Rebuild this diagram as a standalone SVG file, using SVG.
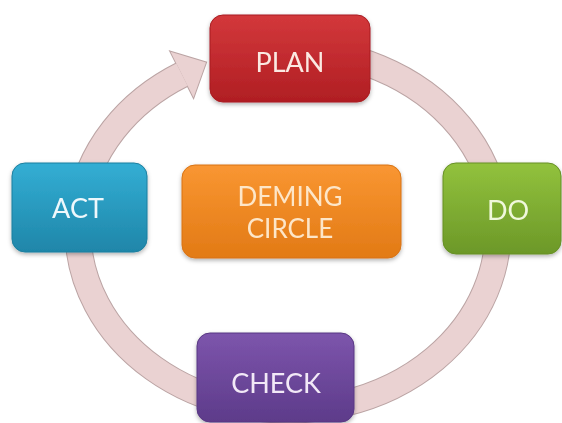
<svg xmlns="http://www.w3.org/2000/svg" width="562" height="423" viewBox="0 0 562 423">
<style>
.lbl{font-family:Lato,"Open Sans","Liberation Sans",sans-serif;font-size:27px;text-anchor:middle}
.sm{font-size:26px}
</style>
<defs>
<filter id="sh" x="-10%" y="-10%" width="120%" height="130%">
<feDropShadow dx="0" dy="2" stdDeviation="2" flood-color="#000" flood-opacity="0.3"/>
</filter>
<linearGradient id="gPlan" x1="0" y1="0" x2="0" y2="1"><stop offset="0" stop-color="#d3383b"/><stop offset="1" stop-color="#b01e23"/></linearGradient>
<linearGradient id="gAct" x1="0" y1="0" x2="0" y2="1"><stop offset="0" stop-color="#33aed4"/><stop offset="1" stop-color="#1f86a9"/></linearGradient>
<linearGradient id="gDo" x1="0" y1="0" x2="0" y2="1"><stop offset="0" stop-color="#92c23d"/><stop offset="1" stop-color="#6c9828"/></linearGradient>
<linearGradient id="gCheck" x1="0" y1="0" x2="0" y2="1"><stop offset="0" stop-color="#7d55ac"/><stop offset="1" stop-color="#5d3b8a"/></linearGradient>
<linearGradient id="gDem" x1="0" y1="0" x2="0" y2="1"><stop offset="0" stop-color="#f99632"/><stop offset="1" stop-color="#e27a15"/></linearGradient>
</defs>
<g id="connectors">
<path d="M288,50 A210,180 0 1 1 182,74.6" fill="none" stroke="#bba4a4" stroke-width="27"/>
<polygon points="170.5,51.7 206,62.5 193.5,97.4" fill="#bba4a4" stroke="#bba4a4" stroke-width="2" stroke-linejoin="miter"/>
<path d="M288,50 A210,180 0 1 1 182,74.6" fill="none" stroke="#ead2d2" stroke-width="25"/>
<polygon points="170.5,51.7 206,62.5 193.5,97.4" fill="#ead2d2"/>
</g>
<g id="plan" filter="url(#sh)">
<rect x="210" y="15" width="160" height="87" rx="13" fill="url(#gPlan)" stroke="#a81c20"/>
<text class="lbl" x="290" y="72" fill="#fbe9e2">PLAN</text>
</g>
<g id="act" filter="url(#sh)">
<rect x="12" y="163" width="135" height="89" rx="13" fill="url(#gAct)" stroke="#1d7f9f"/>
<text class="lbl" x="78" y="218" fill="#eef8fc">ACT</text>
</g>
<g id="do" filter="url(#sh)">
<rect x="443" y="163" width="118" height="91" rx="13" fill="url(#gDo)" stroke="#668f25"/>
<text class="lbl" x="508" y="220" fill="#f0f8dc">DO</text>
</g>
<g id="check" filter="url(#sh)">
<rect x="197" y="333" width="157" height="89" rx="13" fill="url(#gCheck)" stroke="#583783"/>
<text class="lbl" x="276" y="393" fill="#f2e9f7">CHECK</text>
</g>
<g id="deming" filter="url(#sh)">
<rect x="182" y="165" width="219" height="93" rx="13" fill="url(#gDem)" stroke="#d87314"/>
<text class="lbl sm" x="290" y="206" fill="#fde6c8">DEMING</text>
<text class="lbl sm" x="290" y="238" fill="#fde6c8">CIRCLE</text>
</g>
</svg>
